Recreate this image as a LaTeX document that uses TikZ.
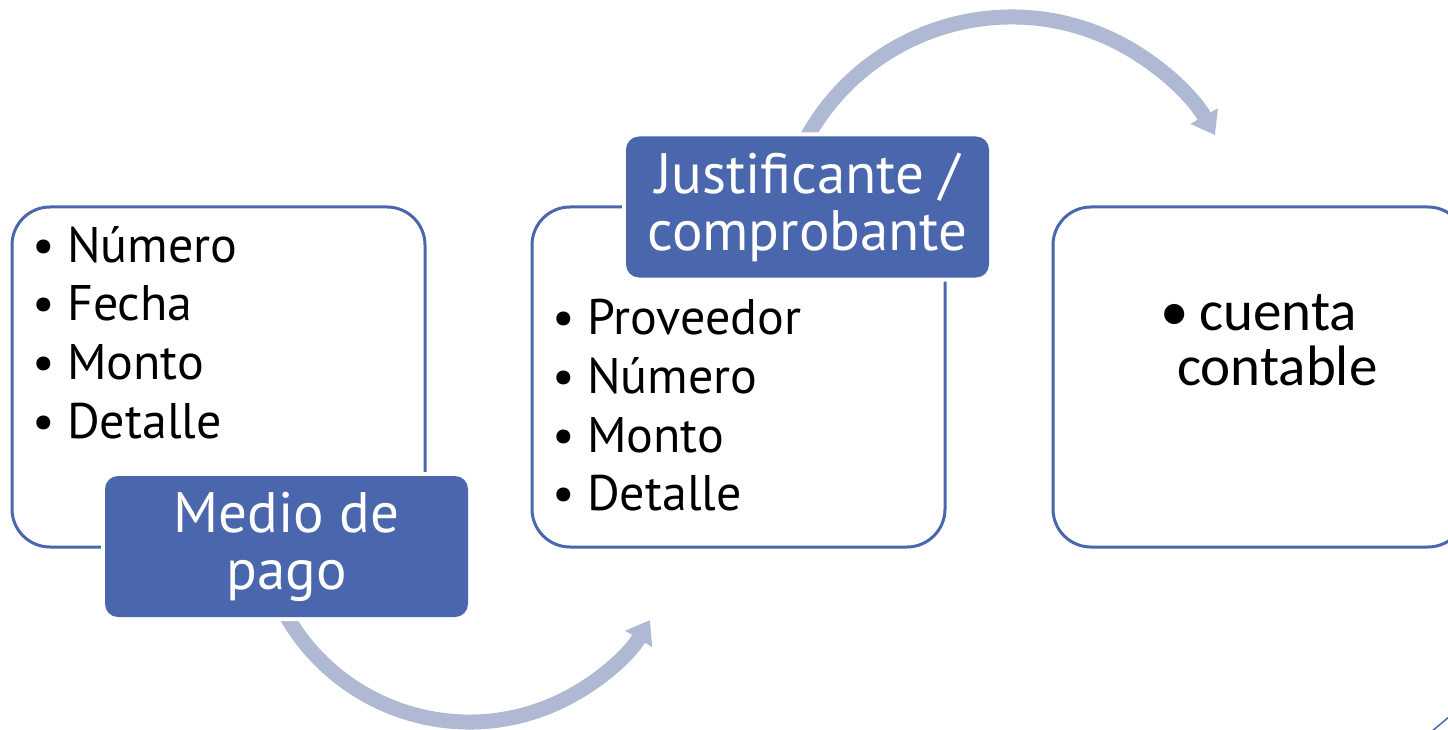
\documentclass[tikz,border=0pt]{standalone}
\usepackage{fontspec}
\setmainfont{PT Sans}
\newfontfamily\calib{Carlito}
\usetikzlibrary{arrows.meta,calc}
\definecolor{dblue}{HTML}{4A67AD}
\definecolor{lblue}{HTML}{B0B9D3}
\begin{document}
\begin{tikzpicture}[x=1pt,y=-1pt,
  box/.style={draw=dblue, line width=3pt, rounded corners=38pt, minimum width=413pt, minimum height=340pt, inner sep=0pt, fill=white},
  tag/.style={fill=dblue, rounded corners=13pt, minimum width=363pt, minimum height=141pt, inner sep=0pt, preaction={draw=white, line width=8pt}, text=white, align=center, font=\fontsize{57}{57}\selectfont},
  item/.style={anchor=base west, inner sep=0pt, font=\fontsize{50}{56}\selectfont},
  itemc/.style={anchor=base west, inner sep=0pt, font=\calib\fontsize{57}{66}\selectfont},
  flow/.style={draw=lblue, line width=15pt, -{Triangle[width=30pt,length=22pt]}},
  deco/.style={draw=dblue, line width=1.5pt}]
\useasboundingbox (0,0) rectangle (1448,730);
\clip (0,0) rectangle (1448,730);
% boxes
\node[box] (b1) at (218.5,377) {};
\node[box] (b2) at (738.5,377) {};
\node[box] (b3) at (1259.5,377) {};
% box 1 items
\node[item] (p1) at (32,262) {\makebox[35pt][l]{•}Número};
\node[item] (p2) at (32,320) {\makebox[35pt][l]{•}Fecha};
\node[item] (p3) at (32,379) {\makebox[35pt][l]{•}Monto};
\node[item] (p4) at (32,438) {\makebox[35pt][l]{•}Detalle};
% box 2 items
\node[item] (q1) at (552,334) {\makebox[35pt][l]{•}Proveedor};
\node[item] (q2) at (552,393) {\makebox[35pt][l]{•}Número};
\node[item] (q3) at (552,452) {\makebox[35pt][l]{•}Monto};
\node[item] (q4) at (552,510) {\makebox[35pt][l]{•}Detalle};
% box 3 items
\node[itemc] (r1) at (1160,330) {\makebox[39pt][l]{•}cuenta};
\node[itemc] (r2) at (1177,385) {contable};
% arrows
\coordinate (c1) at (469.4,511.1);
\coordinate (c2) at (1011.6,251.2);
\coordinate (s1) at ($(c1)+(205:210.9pt)$);
\coordinate (s2) at ($(c2)+(152:234.2pt)$);
\draw[flow] (s1) arc[start angle=205, end angle=328.9, radius=210.9pt];
\draw[flow] (s2) arc[start angle=152, end angle=29.7, radius=234.2pt];
% tags
\node[tag] (t1) at (286.5,546.5) {Medio de\\pago};
\node[tag] (t2) at (807.5,207) {Justificante /\\comprobante};
% corner decoration
\coordinate (d1) at (1431,732);
\coordinate (d2) at (1450,716);
\draw[deco] (d1) -- (d2);
\end{tikzpicture}
\end{document}
